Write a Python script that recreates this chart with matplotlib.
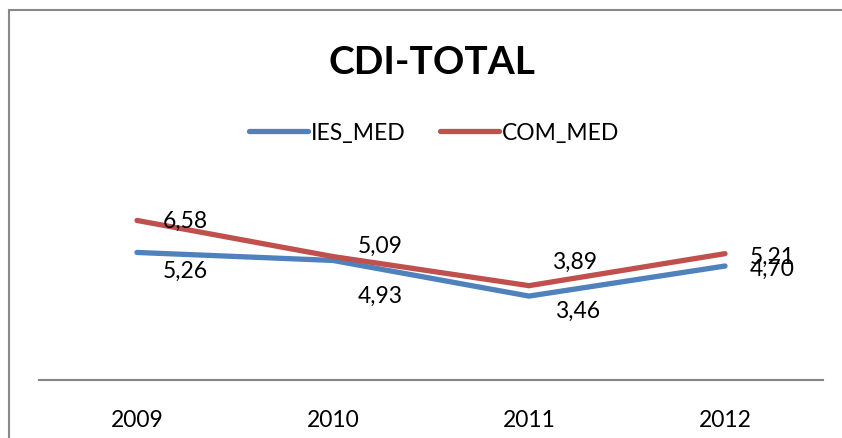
import numpy as np
import matplotlib.pyplot as plt
from matplotlib.patches import Rectangle

years = ["2009", "2010", "2011", "2012"]
ies_med = [5.26, 4.93, 3.46, 4.70]
com_med = [6.58, 5.09, 3.89, 5.21]
ies_lbl = ["5,26", "4,93", "3,46", "4,70"]
com_lbl = ["6,58", "5,09", "3,89", "5,21"]

BLUE = "#4F81BD"
RED = "#C0504D"
plt.rcParams['font.family'] = ['Lato', 'DejaVu Sans']

W, H = 842, 439
fig = plt.figure(figsize=(W / 100, H / 100), dpi=100)

# plot area in pixels: x 39..823, y 187..381
ax = fig.add_axes([39 / W, 1 - 381 / H, 784 / W, 194 / H])
x = np.arange(len(years))
ax.plot(x, ies_med, color=BLUE, lw=3.8, solid_capstyle='round', label="IES_MED")
ax.plot(x, com_med, color=RED, lw=3.8, solid_capstyle='round', label="COM_MED")
ax.set_xlim(-0.5, 3.5)
ax.set_ylim(0, 8)
ax.set_yticks([])
ax.set_xticks(x)
ax.set_xticklabels(years, fontsize=16.5)
ax.tick_params(axis='x', length=0, pad=21)
for s in ['top', 'left', 'right']:
    ax.spines[s].set_visible(False)
ax.spines['bottom'].set_color('#868686')
ax.spines['bottom'].set_linewidth(1.5)

# label offsets in pixels (dx, dy), screen y up
com_off = [(48, 0), (47, 11), (46, 24), (47, -3)]
ies_off = [(48, -18), (47, -35), (49, -14), (47, -2)]
for i in range(len(years)):
    ax.annotate(com_lbl[i], (x[i], com_med[i]), xytext=(com_off[i][0] * 0.72, com_off[i][1] * 0.72),
                textcoords='offset points', ha='center', va='center', fontsize=16.5)
    ax.annotate(ies_lbl[i], (x[i], ies_med[i]), xytext=(ies_off[i][0] * 0.72, ies_off[i][1] * 0.72),
                textcoords='offset points', ha='center', va='center', fontsize=16.5)

fig.text(432 / W, 1 - 63 / H, "CDI-TOTAL", ha='center', va='center', fontsize=28, fontweight='bold')
fig.legend(loc='center', bbox_to_anchor=(434 / W, 1 - 134 / H), ncol=2, frameon=False,
           fontsize=16.5, handlelength=2.6, handletextpad=0.1, columnspacing=1.5)

# chart frame: only left and top edges fall inside the picture
fig.add_artist(Rectangle((9 / W, -0.2), 1.2, 1.2 - 11 / H, transform=fig.transFigure,
                         fill=False, edgecolor='#888888', lw=1.5))

fig.savefig("out.png", dpi=100)
